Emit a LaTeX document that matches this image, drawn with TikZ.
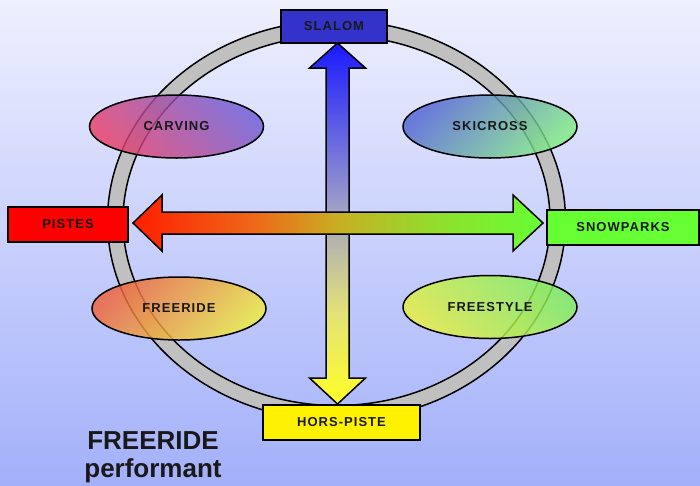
\documentclass[tikz,border=0pt]{standalone}
\usepackage{fontspec}
\setmainfont{Liberation Sans}
\newfontfamily\lblfont{Liberation Sans}[LetterSpace=8]
\usetikzlibrary{shapes.geometric,calc}
\definecolor{bgtop}{RGB}{238,240,254}
\definecolor{bgbot}{RGB}{163,176,250}
\definecolor{ringgray}{RGB}{192,192,192}
\definecolor{slalomc}{RGB}{51,51,204}
\definecolor{snowc}{RGB}{102,255,51}
\definecolor{hA}{RGB}{255,30,0}
\definecolor{hB}{RGB}{238,105,25}
\definecolor{hC}{RGB}{200,175,35}
\definecolor{hD}{RGB}{145,222,45}
\definecolor{hE}{RGB}{102,255,51}
\definecolor{vA}{RGB}{255,255,40}
\definecolor{vB}{RGB}{225,225,120}
\definecolor{vC}{RGB}{160,160,200}
\definecolor{vD}{RGB}{90,90,230}
\definecolor{vE}{RGB}{25,25,255}
\pgfdeclarehorizontalshading{harrowsh}{100bp}{color(0bp)=(hA); color(25bp)=(hA); color(40bp)=(hB); color(50bp)=(hC); color(62bp)=(hD); color(75bp)=(hE); color(100bp)=(hE)}
\pgfdeclareverticalshading{varrowsh}{100bp}{color(0bp)=(vA); color(25bp)=(vA); color(38bp)=(vB); color(52bp)=(vC); color(64bp)=(vD); color(75bp)=(vE); color(100bp)=(vE)}
\definecolor{carvA}{RGB}{232,62,104}
\definecolor{carvB}{RGB}{112,92,212}
\definecolor{skiA}{RGB}{82,100,212}
\definecolor{skiB}{RGB}{130,236,130}
\definecolor{frA}{RGB}{240,98,60}
\definecolor{frB}{RGB}{240,236,62}
\definecolor{fsA}{RGB}{232,240,60}
\definecolor{fsB}{RGB}{128,240,92}
\tikzset{
  lbl/.style={font=\lblfont\bfseries\fontsize{13}{15}\selectfont, text=black!90},
  box/.style={lbl, draw=black, line width=1.5pt, rectangle, inner sep=0pt, minimum height=34pt},
  oval/.style={lbl, ellipse, draw=black, line width=1.5pt, inner sep=0pt, minimum width=174pt, minimum height=63pt, fill opacity=0.82, text opacity=1, draw opacity=1},
  arr/.style={draw=black, line width=1.5pt, shade},
}
\begin{document}
\begin{tikzpicture}[x=1pt,y=-1pt]
\useasboundingbox (0,0) rectangle (700,485);
\shade[top color=bgtop, bottom color=bgbot] (0,0) rectangle (700,485);
% ring
\coordinate (rc) at (336.5,220.5);
\path[fill=ringgray, even odd rule, draw=black, line width=1.5pt]
  (rc) ellipse [x radius=229pt, y radius=200pt]
  (rc) ellipse [x radius=213.5pt, y radius=185pt];
% vertical arrow
\coordinate (vt) at (337.5,43);
\coordinate (vb) at (337.5,404);
\path[arr, shading=varrowsh]
  (vt) -- ($(vt)+(28,25)$) -- ($(vt)+(11.5,25)$) -- ($(vb)+(11.5,-26)$) -- ($(vb)+(28,-26)$)
  -- (vb) -- ($(vb)+(-28,-26)$) -- ($(vb)+(-11.5,-26)$) -- ($(vt)+(-11.5,25)$) -- ($(vt)+(-28,25)$) -- cycle;
% horizontal arrow
\coordinate (hl) at (133,223);
\coordinate (hr) at (543,223);
\path[arr, shading=harrowsh]
  (hl) -- ($(hl)+(29,-28)$) -- ($(hl)+(29,-11)$) -- ($(hr)+(-30,-11)$) -- ($(hr)+(-30,-28)$)
  -- (hr) -- ($(hr)+(-30,28)$) -- ($(hr)+(-30,11)$) -- ($(hl)+(29,11)$) -- ($(hl)+(29,28)$) -- cycle;
% ovals
\node[oval, top color=carvB, bottom color=carvA, shading angle=-45] (carving) at (176.5,126.5) {CARVING};
\node[oval, top color=skiA, bottom color=skiB, shading angle=45] (skicross) at (490,126.5) {SKICROSS};
\node[oval, top color=frA, bottom color=frB, shading angle=45] (freeride) at (179,308.5) {FREERIDE};
\node[oval, top color=fsB, bottom color=fsA, shading angle=-45] (freestyle) at (490,307) {FREESTYLE};
% boxes
\node[box, fill=slalomc, minimum width=106pt, minimum height=33pt] (slalom) at (334,26.5) {SLALOM};
\node[box, fill=red, minimum width=120pt, minimum height=35pt] (pistes) at (68,224.5) {PISTES};
\node[box, fill=snowc, minimum width=152pt, minimum height=35pt] (snow) at (623,227.5) {SNOWPARKS};
\node[box, fill=yellow, minimum width=157pt, minimum height=35pt] (hors) at (341.5,422.5) {HORS-PISTE};
% caption
\node[font=\bfseries\fontsize{26}{28}\selectfont, align=center, inner sep=0pt, text=black!90] (caption) at (153,457) {FREERIDE\\performant};
\end{tikzpicture}
\end{document}
